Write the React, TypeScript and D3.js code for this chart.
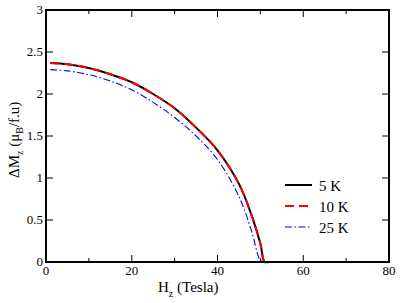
import React from "react";
import * as d3 from "d3";

const h5 = [1, 5, 10, 15, 20, 25, 30, 35, 40, 45, 48, 50, 51, 52, 54];
const m5 = [2.37, 2.355, 2.31, 2.235, 2.14, 2.0, 1.83, 1.6, 1.33, 0.93, 0.55, 0.22, 0.0, 0, 0];
const h10 = [1, 5, 10, 15, 20, 25, 30, 35, 40, 45, 48, 50, 51, 52, 54];
const m10 = [2.37, 2.355, 2.31, 2.235, 2.14, 2.0, 1.83, 1.6, 1.33, 0.93, 0.55, 0.22, 0.0, 0, 0];
const h25 = [1, 5, 10, 15, 20, 25, 30, 35, 40, 45, 48, 50, 51, 53];
const m25 = [2.29, 2.275, 2.23, 2.155, 2.05, 1.9, 1.72, 1.5, 1.22, 0.78, 0.36, 0.02, 0, 0];

const xMajor = [0, 20, 40, 60, 80];
const xMinor = [10, 30, 50, 70];
const yMajor = [0, 0.5, 1, 1.5, 2, 2.5, 3];
const yTickLabels = ["0", "0.5", "1", "1.5", "2", "2.5", "3"];

const seriesNames = ["5 K", "10 K", "25 K"];

export default function App() {
  const W = 415, H = 303;
  const L = 46, R = 389, T = 10, B = 262;
  const x = d3.scaleLinear().domain([0, 80]).range([L, R]);
  const y = d3.scaleLinear().domain([0, 3]).range([B, T]);
  const line = d3.line<[number, number]>().x((d) => x(d[0])).y((d) => y(d[1])).curve(d3.curveCatmullRom.alpha(0.5));
  const zip = (a: number[], b: number[]) => a.map((v, i) => [v, b[i]] as [number, number]);

  const styles = [
    { stroke: "#000", width: 2, dash: undefined as string | undefined },
    { stroke: "#ff0000", width: 2, dash: "9,5" },
    { stroke: "#0000ff", width: 1.1, dash: "7,2.5,1.5,2.5" },
  ];
  const data = [zip(h5, m5), zip(h10, m10), zip(h25, m25)];
  const ts = { fontFamily: "'Liberation Serif', 'DejaVu Serif', 'Times New Roman', serif" };

  return (
    <svg width={W} height={H} style={{ position: "absolute", left: 0, top: 0, background: "#fff" }}>
      <rect x={0} y={0} width={W} height={H} fill="#fff" />
      {data.map((d, i) => (
        <path key={i} d={line(d) || ""} fill="none" stroke={styles[i].stroke} strokeWidth={styles[i].width}
          strokeDasharray={styles[i].dash} />
      ))}
      {xMajor.map((v) => (
        <g key={"xm" + v}>
          <line x1={x(v)} x2={x(v)} y1={B} y2={B - 7} stroke="#000" strokeWidth={1} />
          <line x1={x(v)} x2={x(v)} y1={T} y2={T + 7} stroke="#000" strokeWidth={1} />
          <text style={ts} x={x(v)} y={275} fontSize={13} textAnchor="middle">{v}</text>
        </g>
      ))}
      {xMinor.map((v) => (
        <g key={"xn" + v}>
          <line x1={x(v)} x2={x(v)} y1={B} y2={B - 4} stroke="#000" strokeWidth={1} />
          <line x1={x(v)} x2={x(v)} y1={T} y2={T + 4} stroke="#000" strokeWidth={1} />
        </g>
      ))}
      {yMajor.map((v, i) => (
        <g key={"ym" + v}>
          <line x1={L} x2={L + 7} y1={y(v)} y2={y(v)} stroke="#000" strokeWidth={1} />
          <line x1={R} x2={R - 7} y1={y(v)} y2={y(v)} stroke="#000" strokeWidth={1} />
          <text style={ts} x={43} y={y(v) + 4} fontSize={13} textAnchor="end">{yTickLabels[i]}</text>
        </g>
      ))}
      <rect x={L} y={T} width={R - L} height={B - T} fill="none" stroke="#000" strokeWidth={2} />
      <text style={ts} x={158} y={292} fontSize={15}>
        H<tspan fontSize={10} dy={5}>z</tspan><tspan dy={-5}> (Tesla)</tspan>
      </text>
      <text style={ts} transform="translate(19,178) rotate(-90)" fontSize={15}>
        ΔM<tspan fontSize={10} dy={4}>z</tspan><tspan dy={-4}> (μ</tspan><tspan fontSize={10} dy={4}>B</tspan><tspan dy={-4}>/f.u)</tspan>
      </text>
      {seriesNames.map((n, i) => (
        <g key={n}>
          <line x1={285} x2={312} y1={185 + i * 21} y2={185 + i * 21} stroke={styles[i].stroke}
            strokeWidth={styles[i].width} strokeDasharray={styles[i].dash} />
          <text style={ts} x={319} y={191 + i * 21} fontSize={15}>{n}</text>
        </g>
      ))}
    </svg>
  );
}
